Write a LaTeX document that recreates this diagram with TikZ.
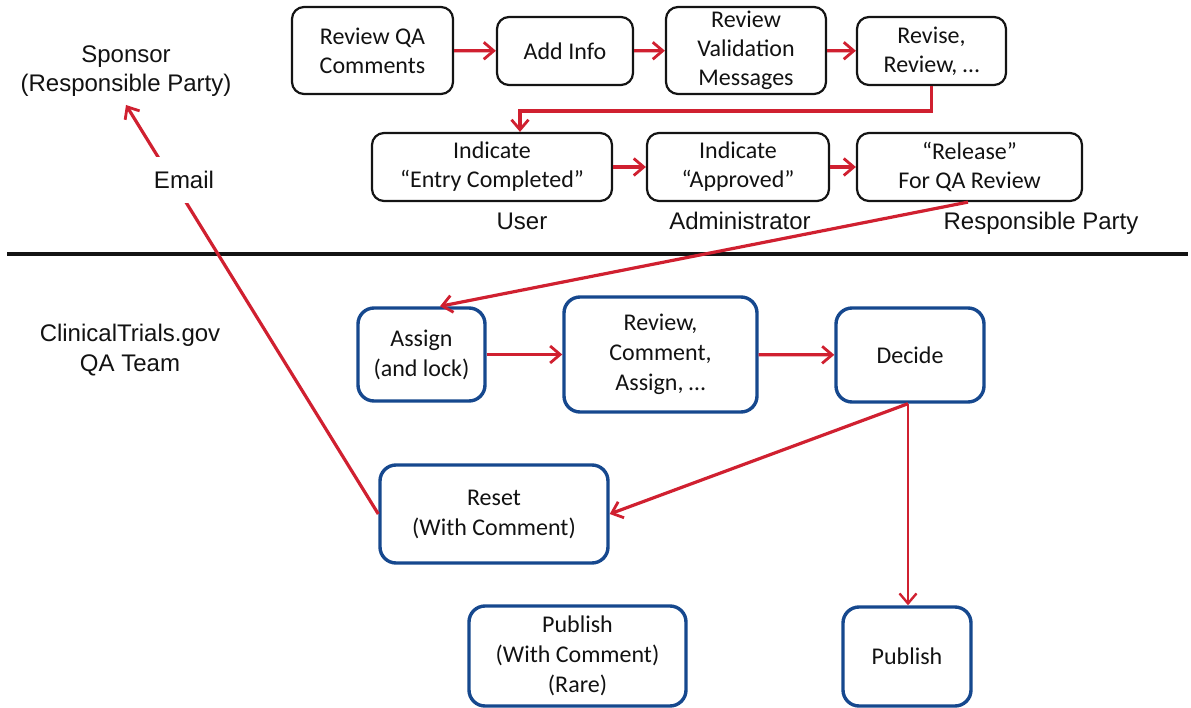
\documentclass[tikz,border=0pt]{standalone}
\usepackage{fontspec}
\setmainfont{Carlito}
\newfontfamily\arialf{Liberation Sans}
\usetikzlibrary{arrows.meta}
\definecolor{flowred}{RGB}{208,32,48}
\definecolor{qablue}{RGB}{22,72,142}
\definecolor{boxline}{RGB}{20,20,20}
\definecolor{ink}{RGB}{18,18,18}
\begin{document}
\begin{tikzpicture}[x=1pt,y=-1pt,
  every node/.style={text=ink},
  sponsorbox/.style={draw=boxline, line width=2.2pt, rounded corners=12pt,
    align=center, inner sep=0pt, font=\fontsize{24}{29}\selectfont},
  qabox/.style={draw=qablue, line width=3.4pt, rounded corners=16pt,
    align=center, inner sep=0pt, font=\fontsize{24}{30}\selectfont},
  lbl/.style={align=center, inner sep=0pt, font=\arialf\fontsize{24}{29}\selectfont},
  flow/.style={draw=flowred, line width=3.2pt,
    -{Straight Barb[length=10pt,width=17pt,line width=2.8pt]}},
  thinflow/.style={draw=flowred, line width=2.4pt,
    -{Straight Barb[length=10pt,width=17pt,line width=2.4pt]}}
]
\useasboundingbox (0,0) rectangle (1191,708);

% sponsor-side steps
\node[sponsorbox, minimum width=161, minimum height=87] (rqa) at (372.5,50.5) {Review QA\\Comments};
\node[sponsorbox, minimum width=136, minimum height=68] (add) at (565,51) {Add Info};
\node[sponsorbox, minimum width=160, minimum height=87] (rvm) at (746,50.5) {Review\\Validation\\Messages};
\node[sponsorbox, minimum width=149, minimum height=68] (rev) at (931.5,51) {Revise,\\Review, \dots};
\node[sponsorbox, minimum width=240, minimum height=68] (ind1) at (492,167) {Indicate\\“Entry Completed”};
\node[sponsorbox, minimum width=182, minimum height=68] (ind2) at (738,167) {Indicate\\“Approved”};
\node[sponsorbox, minimum width=225, minimum height=68] (rel) at (969.5,167) {“Release”\\For QA Review};

% role labels
\node[lbl, anchor=base] (user) at (522,230) {User};
\node[lbl, anchor=base] (admin) at (740,230) {Administrator};
\node[lbl, anchor=base] (rp) at (1041,230) {Responsible Party};
\node[lbl] (sponsor) at (126,71) {Sponsor\\(Responsible Party)};
\node[lbl, align=center, font=\arialf\fontsize{24}{30}\selectfont] (ctg) at (130,350) {ClinicalTrials.gov\\QA Team};

% divider between the two parties
\draw[line width=3.2pt, boxline] (7,254) -- (1188,254);

% QA team steps
\node[qabox, minimum width=127, minimum height=93] (asg) at (421.5,354.5) {Assign\\(and lock)};
\node[qabox, minimum width=193, minimum height=115] (rca) at (660.5,354.5) {Review,\\Comment,\\Assign, \dots};
\node[qabox, minimum width=148, minimum height=94] (dec) at (910,355) {Decide};
\node[qabox, minimum width=228, minimum height=98] (rst) at (494,514) {Reset\\(With Comment)};
\node[qabox, minimum width=217, minimum height=100] (pwc) at (577.5,656) {Publish\\(With Comment)\\(Rare)};
\node[qabox, minimum width=128, minimum height=99] (pub) at (907,656.5) {Publish};

% sponsor-side flow
\draw[flow] (rqa) -- (add);
\draw[flow] (add) -- (rvm);
\draw[flow] (rvm) -- (rev);
\draw[flow] (rev.south) -- ++(0,25) -| ([xshift=28pt]ind1.north);
\draw[flow] (ind1) -- (ind2);
\draw[flow] (ind2) -- (rel);
\draw[flow] ([xshift=-1.5pt]rel.south) -- ([xshift=18.5pt]asg.north);

% QA flow
\draw[flow] (asg) -- (rca);
\draw[flow] (rca) -- (dec);
\draw[flow] ([xshift=-2pt]dec.south) -- (rst.east);
\draw[thinflow] ([xshift=-2pt]dec.south) -- ([xshift=-2pt]dec.south |- pub.north);

% email back to the sponsor
\coordinate (sptip) at (126,105);
\draw[flow] (rst.west) -- (sptip);
\node[lbl, fill=white, inner xsep=2pt, inner ysep=14pt] (email) at (184,180) {Email};
\end{tikzpicture}
\end{document}
